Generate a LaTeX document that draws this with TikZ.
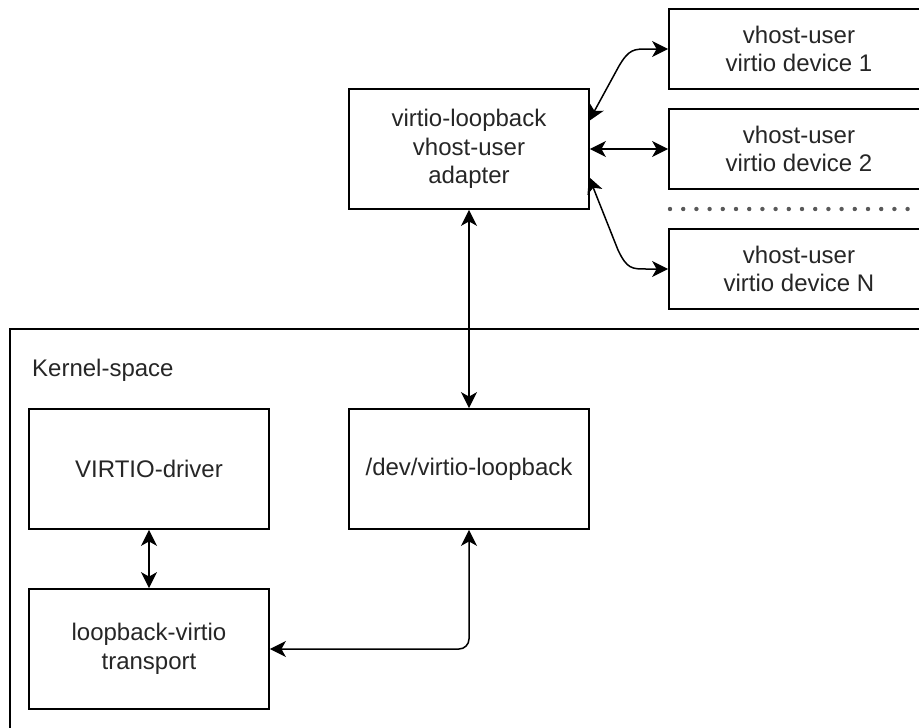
\documentclass[tikz,border=0pt]{standalone}
\usepackage{fontspec}
\setmainfont{Liberation Sans}
\usetikzlibrary{arrows.meta}
\tikzset{
  box/.style={draw=black, line width=1.8pt, fill=white, minimum width=240pt, minimum height=120pt,
    align=center, inner sep=0pt, font=\fontsize{24pt}{28.5pt}\selectfont, text=black!85},
  devbox/.style={box, minimum width=260pt, minimum height=80pt},
  conn/.style={line width=1.5pt, {Stealth[length=16pt,width=16pt,inset=4.5pt]}-{Stealth[length=16pt,width=16pt,inset=4.5pt]}},
  lbl/.style={font=\fontsize{24pt}{28.5pt}\selectfont, text=black!85, inner sep=0pt}
}
\begin{document}
\begin{tikzpicture}[x=1pt,y=-1pt]
\useasboundingbox (0,0) rectangle (919,728);
\clip (0,0) rectangle (919,728);
\fill[white] (0,0) rectangle (919,728);
% kernel space container
\node[draw=black, line width=1.8pt, minimum width=940pt, minimum height=440pt, anchor=north west, inner sep=0pt] (kernel) at (9,328) {};
\node[lbl, anchor=west] (klabel) at (32,370) {Kernel-space};
% boxes
\node[box] (adapter) at (469,149) {virtio-loopback\\vhost-user\\adapter};
\node[devbox] (dev1) at (799,49) {vhost-user\\virtio device 1};
\node[devbox] (dev2) at (799,149) {vhost-user\\virtio device 2};
\node[devbox] (devN) at (799,269) {vhost-user\\virtio device N};
\node[box] (driver) at (149,469) {VIRTIO-driver};
\node[box] (devnode) at (469,469) {/dev/virtio-loopback};
\node[box] (loop) at (149,649) {loopback-virtio\\transport};
% dotted separator
\coordinate (dotA) at (670,209);
\coordinate (dotB) at (919,209);
\draw[line width=4.4pt, line cap=round, dash pattern=on 0pt off 13.2pt, black!65] (dotA) -- (dotB);
% connectors
\coordinate (c1) at (589,121);
\coordinate (cN) at (589,177);
\draw[conn] (c1) -- (619,66) .. controls (629,49) and (634,49) .. (648,49) -- (dev1.west);
\draw[conn] (adapter.east) -- (dev2.west);
\draw[conn] (cN) -- (618,250) .. controls (627,269) and (632,269) .. (646,269) -- (devN.west);
\draw[conn] (adapter.south) -- (devnode.north);
\draw[conn] (driver.south) -- (loop.north);
\draw[conn, rounded corners=10pt] (devnode.south) |- (loop.east);
\end{tikzpicture}
\end{document}
